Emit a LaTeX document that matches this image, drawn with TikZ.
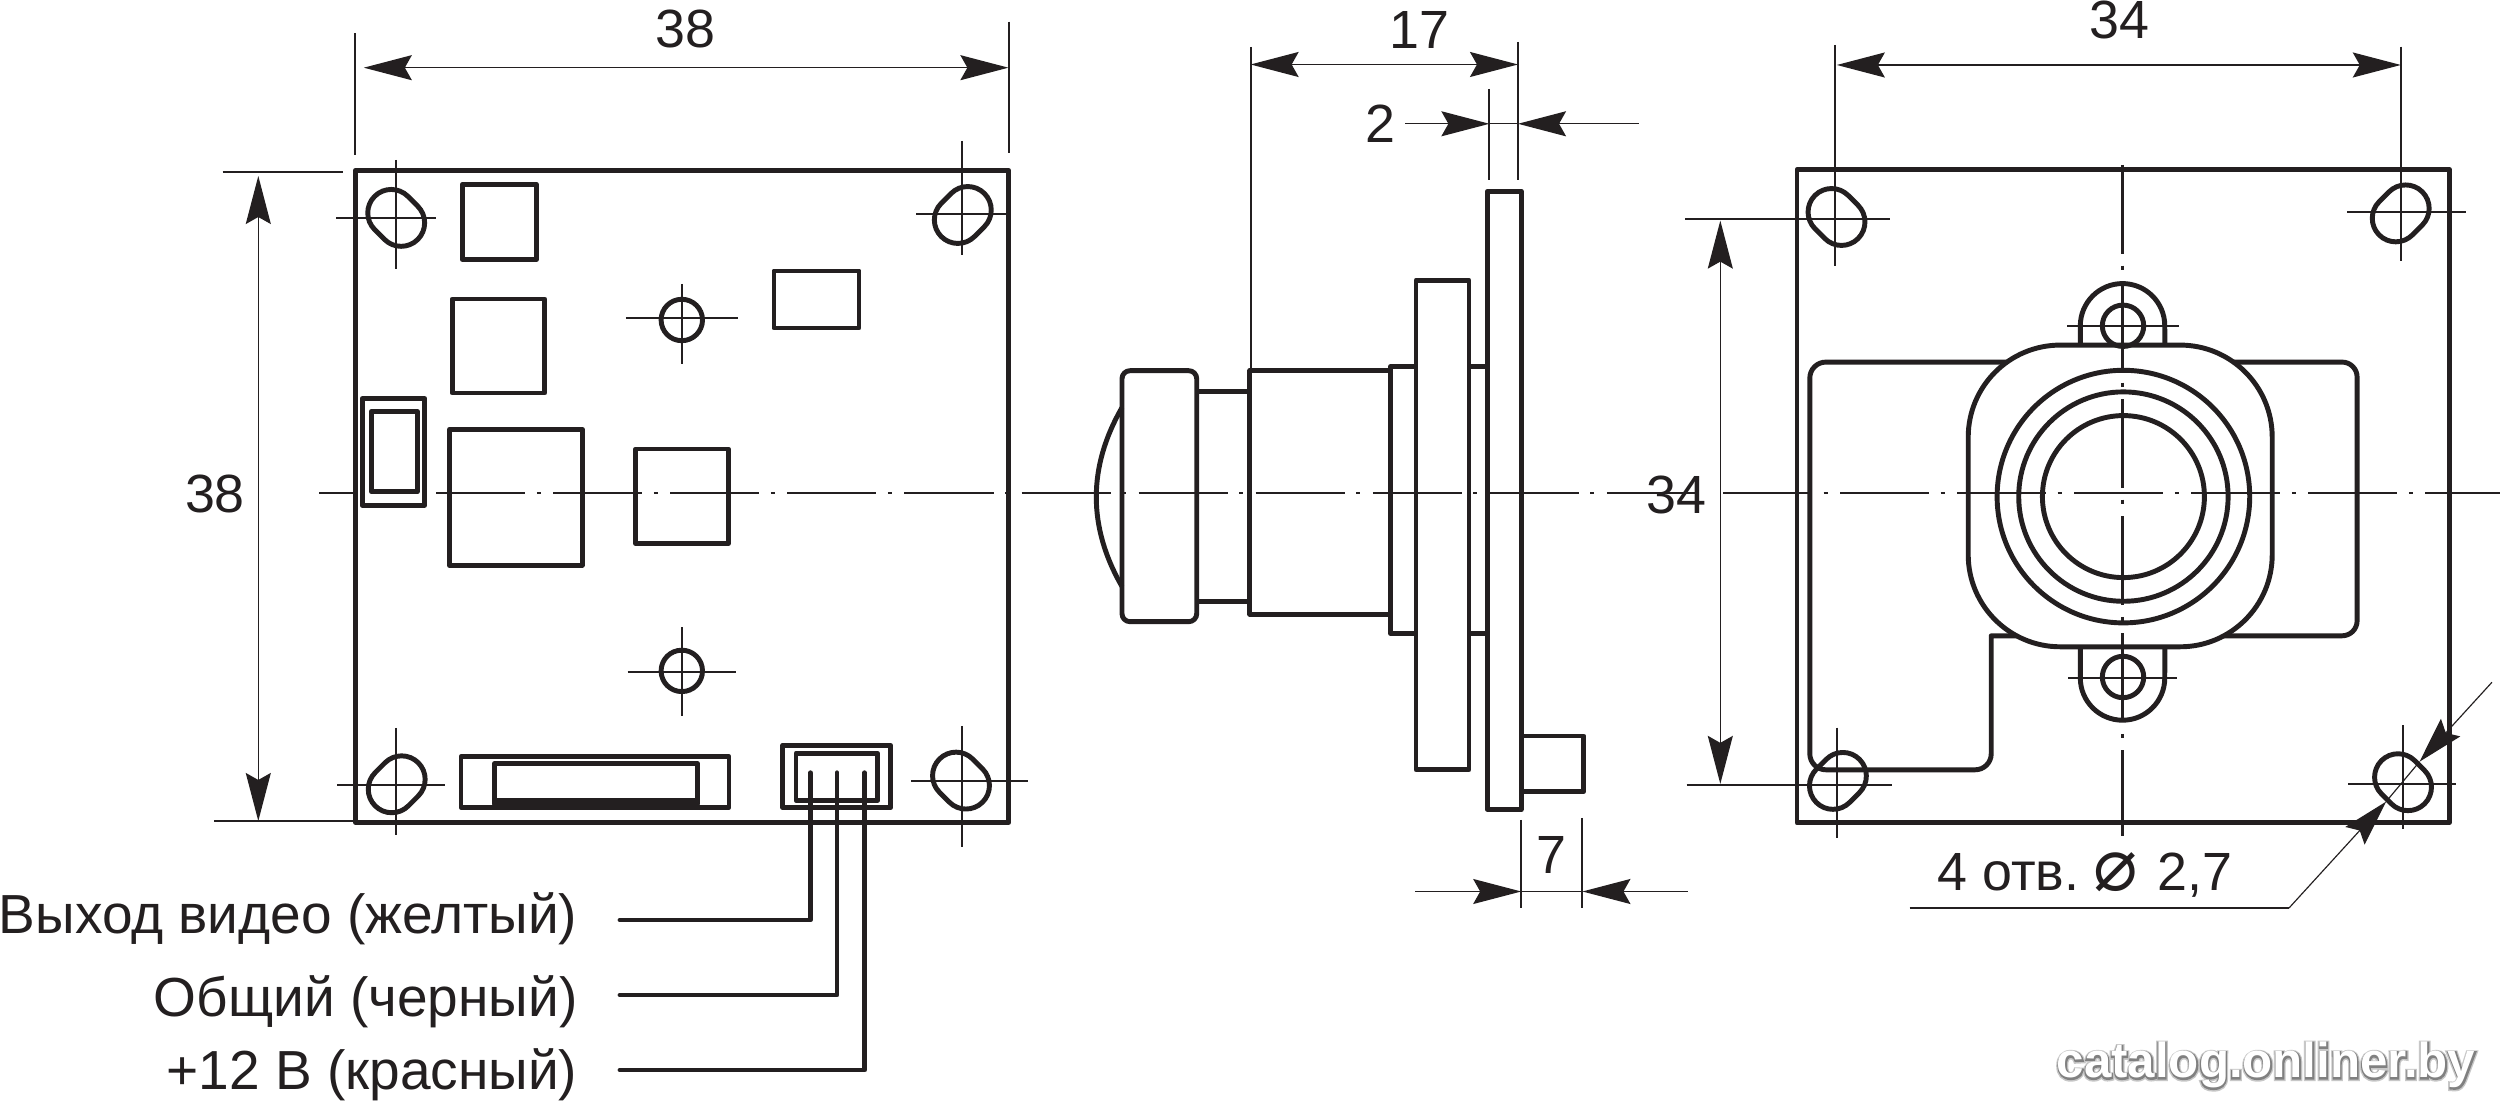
\documentclass[tikz,border=0pt]{standalone}
\usepackage{fontspec}
\setmainfont{Liberation Sans}
\newfontfamily\diafont{DejaVu Sans}
\newfontface\wmhaloA{Liberation Sans Bold}[FakeBold=10]
\newfontface\wmhaloB{Liberation Sans Bold}[FakeBold=5]
\usetikzlibrary{arrows.meta}
\definecolor{ink}{HTML}{231F20}
\newcommand{\slotat}[3]{\draw[outline,rotate around={#3:(#1,#2)},rounded corners=0.235cm] (#1-30.5,#2-23.5) rectangle (#1+30.5,#2+23.5);}
\newcommand{\crossat}[6]{\draw[thinl] (#3,#2) -- (#4,#2); \draw[thinl] (#1,#5) -- (#1,#6);}
\tikzset{
  outline/.style={draw=ink,line width=1.4pt,line join=round},
  thinl/.style={draw=ink,line width=0.62pt},
  extl/.style={draw=ink,line width=0.55pt},
  diml/.style={draw=ink,line width=0.4pt,>={Stealth[length=4.8mm,width=2.5mm,inset=0.7mm]}},
  leader/.style={draw=ink,line width=0.33pt,>={Stealth[length=4.6mm,width=2.6mm,inset=0.7mm]}},
  center/.style={draw=ink,line width=0.62pt,dash pattern=on 0.89cm off 0.115cm on 0.04cm off 0.125cm},
  lbl/.style={inner sep=0pt,text=ink,font=\fontsize{15.3}{18}\selectfont},
  wirelbl/.style={inner sep=0pt,text=ink,font=\fontsize{15.65}{19}\selectfont},
  wmark/.style={inner sep=0pt,text=white,font=\fontsize{14}{17}\selectfont\bfseries}
}
\begin{document}
\begin{tikzpicture}[x=0.01cm,y=-0.01cm]
\useasboundingbox (0,0) rectangle (2500,1101);
\fill[white] (0,0) rectangle (2500,1101);

% ---------- left view ----------
\draw[outline] (355.4,170.4) rectangle (1008.7,822.4);
\draw[outline] (462.3,184.2) rectangle (536.3,259.5);
\draw[outline] (452.2,299) rectangle (544.5,393);
\draw[outline] (774,271) rectangle (859,328);
\draw[outline] (449.5,429.4) rectangle (582.2,565.3);
\draw[outline] (635.9,449) rectangle (728.2,543.7);
\draw[outline] (362.2,398.6) rectangle (424.7,505.1);
\draw[outline] (371.4,411.4) rectangle (417.3,491.8);
\draw[outline] (461,756.7) rectangle (729,807.2);
\draw[outline] (494.5,763.6) rectangle (697.4,804);
\fill[ink] (494.5,798) rectangle (697.4,807.2);
\draw[outline] (782.8,745.2) rectangle (890.7,807.7);
\draw[outline] (796,753.5) rectangle (877.8,800.3);
\draw[outline] (681.8,320) circle[radius=20.7];
\draw[outline] (681.8,670.9) circle[radius=20.7];
\slotat{396.2}{217.9}{-45}
\slotat{962.8}{215}{45}
\slotat{396.7}{784.3}{45}
\slotat{961}{780.6}{-45}
\crossat{395.8}{218.2}{336}{436}{160}{269}
\crossat{962}{214}{916}{1006}{141}{255}
\crossat{395.8}{785.2}{337.4}{445}{728}{835}
\crossat{962}{781}{911.4}{1028}{726}{847}
\crossat{681.8}{317.8}{625.8}{737.8}{283.8}{364.2}
\crossat{681.8}{671.8}{627.6}{736.4}{627.3}{716.3}

% wires
\coordinate (pin1) at (810.4,772.8);
\coordinate (pin2) at (837,772.8);
\coordinate (pin3) at (864.5,772.8);
\coordinate (wire1) at (620,920);
\coordinate (wire2) at (620,995);
\coordinate (wire3) at (620,1070);
\draw[outline,line cap=round] (pin1) |- (wire1);
\draw[outline,line cap=round] (pin2) |- (wire2);
\draw[outline,line cap=round] (pin3) |- (wire3);
\node[wirelbl,anchor=base east] (lab1) at (578,933) {Выход видео (желтый)};
\node[wirelbl,anchor=base east] (lab2) at (578,1016.7) {Общий (черный)};
\node[wirelbl,anchor=base east] (lab3) at (578,1090) {+12 В (красный)};

% dimensions, left view
\coordinate (a38l) at (363.8,67.7);
\coordinate (a38r) at (1008.4,67.7);
\draw[extl] (355.2,33.3) -- (355.2,155);
\draw[extl] (1009,21.7) -- (1009,153.3);
\draw[diml,<->] (a38l) -- (a38r);
\node[lbl] (t38top) at (685,29.3) {38};
\coordinate (a38t) at (258.3,176);
\coordinate (a38b) at (258.3,821);
\draw[extl] (222.7,171.9) -- (343.3,171.9);
\draw[extl] (214,821.4) -- (354,821.4);
\draw[diml,<->] (a38t) -- (a38b);
\node[lbl] (t38left) at (215,493.8) {38};

% ---------- middle view ----------
\draw[outline] (1487.3,191.2) rectangle (1521.2,809.4);
\draw[outline] (1416,280.4) rectangle (1469,769.5);
\draw[outline] (1469,366.6) -- (1487.3,366.6);
\draw[outline] (1469,633.4) -- (1487.3,633.4);
\draw[outline] (1416,366.6) -- (1390.6,366.6) -- (1390.6,633.4) -- (1416,633.4);
\draw[outline] (1390.6,370.7) -- (1249.8,370.7) -- (1249.8,614.1) -- (1390.6,614.1);
\draw[outline] (1249.8,391.2) -- (1196.7,391.2);
\draw[outline] (1249.8,601.2) -- (1196.7,601.2);
\draw[outline,rounded corners=0.08cm] (1122,370.7) rectangle (1196.7,621.7);
\draw[outline] (1122,407.6) .. controls (1087.7,467) and (1087.7,527) .. (1122,586.5);
\draw[outline] (1521.2,736) -- (1583.7,736) -- (1583.7,791.8) -- (1521.2,791.8);

\coordinate (a17l) at (1250.6,64.5);
\coordinate (a17r) at (1518,64.5);
\draw[extl] (1250.6,47) -- (1250.6,370);
\draw[extl] (1518,42) -- (1518,180);
\draw[extl] (1489.4,89) -- (1489.4,180);
\draw[diml,<->] (a17l) -- (a17r);
\node[lbl] (t17) at (1419,30.5) {17};
\coordinate (a2a) at (1405,123.8);
\coordinate (a2b) at (1489.4,123.8);
\coordinate (a2c) at (1638.8,123.8);
\coordinate (a2d) at (1518,123.8);
\draw[diml,->] (a2a) -- (a2b);
\draw[diml,->] (a2c) -- (a2d);
\draw[diml] (a2b) -- (a2d);
\node[lbl] (t2) at (1380.4,124) {2};
\coordinate (a7a) at (1415,891.5);
\coordinate (a7b) at (1521.2,891.5);
\coordinate (a7c) at (1687.8,891.5);
\coordinate (a7d) at (1582.4,891.5);
\draw[extl] (1521.2,820) -- (1521.2,908);
\draw[extl] (1582.4,818) -- (1582.4,908);
\draw[diml,->] (a7a) -- (a7b);
\draw[diml,->] (a7c) -- (a7d);
\draw[diml] (a7b) -- (a7d);
\node[lbl] (t7) at (1551,855) {7};

% ---------- right view ----------
\draw[outline] (1797,169.7) rectangle (2449.4,822.6);
\draw[outline,rounded corners=0.16cm] (2015,362.1) -- (1809.8,362.1) -- (1809.8,769.8) -- (1991.2,769.8) [sharp corners] -- (1991.2,635.8) -- (2020,635.8);
\draw[outline,rounded corners=0.15cm] (2225,362.1) -- (2357.1,362.1) -- (2357.1,635.8) -- (2215,635.8);
\draw[outline,fill=white,rounded corners=0.92cm] (1968.2,345.1) rectangle (2272.2,646.8);
\draw[outline] (2123.4,496.6) circle[radius=126.3];
\draw[outline] (2123.4,496.6) circle[radius=104.7];
\draw[outline] (2123.4,496.6) circle[radius=81];
\draw[outline] (2080.3,345.1) -- (2080.3,325.8) arc[start angle=180,end angle=0,radius=0.422cm] -- (2164.8,345.1);
\draw[outline] (2080.3,646.8) -- (2080.3,678) arc[start angle=180,end angle=360,radius=0.422cm] -- (2164.8,646.8);
\draw[outline] (2123,325.8) circle[radius=20.7];
\draw[outline] (2123,677) circle[radius=20.7];
\slotat{1836.5}{217}{-45}
\slotat{2400.7}{213.4}{45}
\slotat{1837.9}{780.9}{45}
\slotat{2403}{782.2}{-45}
\crossat{1835}{218.9}{1685}{1890}{45}{265.7}
\crossat{2401.2}{212}{2347}{2466.4}{46.7}{261}
\crossat{1837}{785}{1686.7}{1891.6}{727.6}{837.8}
\crossat{2403}{783.6}{2348.4}{2456.3}{725.3}{829.5}
\crossat{2123}{325.8}{2067}{2178.5}{325.8}{325.8}
\crossat{2123}{678}{2068}{2177}{678}{678}

\coordinate (a34l) at (1836.8,65);
\coordinate (a34r) at (2400.8,65);
\draw[diml,<->] (a34l) -- (a34r);
\node[lbl] (t34top) at (2119.6,20) {34};
\coordinate (a34t) at (1720.3,220.6);
\coordinate (a34b) at (1720.3,783.9);
\draw[diml,<->] (a34t) -- (a34b);
\node[lbl] (t34left) at (1676,495.3) {34};

% hole leader
\coordinate (ldA) at (1909.6,908);
\coordinate (ldB) at (2289,908);
\coordinate (ldC) at (2386,801.7);
\coordinate (ldD) at (2419.5,761.7);
\coordinate (ldE) at (2491.9,682.3);
\draw[leader] (ldA) -- (ldB);
\draw[leader,->] (ldB) -- (ldC);
\draw[leader] (ldC) -- (ldD);
\draw[leader,->] (ldE) -- (ldD);
\node[lbl,anchor=base west] (thole) at (1937,890.7) {4 отв.\kern 4pt{\diafont\fontsize{21}{24}\selectfont ⌀}\kern 5.5pt 2,7};

% ---------- centre lines ----------
\draw[thinl] (319.3,492.7) -- (355,492.7);
\draw[center] (436.2,492.7) -- (1695,492.7);
\draw[center] (1723,492.7) -- (2500,492.7);
\draw[center,dash phase=0cm] (2122.5,165) -- (2122.5,836.4);

% ---------- watermark ----------
\node[wmark,anchor=base west] (wm) at (2056,1077.7) {\rlap{\raisebox{-0.3pt}{\textcolor{black!22}{\wmhaloA\fontsize{14}{17}\selectfont catalog.onliner.by}}}\rlap{\raisebox{-0.2pt}{\textcolor{black!50}{\wmhaloB\fontsize{14}{17}\selectfont catalog.onliner.by}}}catalog.onliner.by};
\end{tikzpicture}
\end{document}
